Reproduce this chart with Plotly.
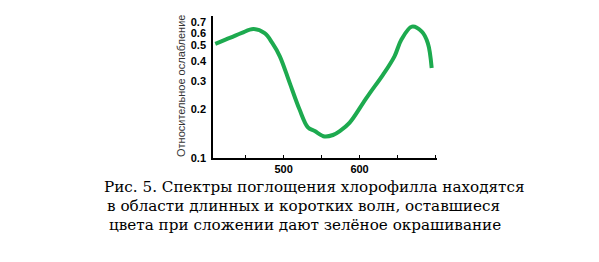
import plotly.graph_objects as go

wavelength = [410, 430, 445, 460, 475, 485, 495, 508, 521, 532, 541, 554, 565, 574, 587, 605, 614, 631, 646, 655, 669, 682, 690, 695]
absorb = [0.513, 0.56, 0.60, 0.634, 0.597, 0.52, 0.429, 0.293, 0.20, 0.155, 0.147, 0.136, 0.139, 0.147, 0.166, 0.221, 0.255, 0.330, 0.429, 0.543, 0.656, 0.611, 0.517, 0.363]

x_tickvals = [450, 500, 550, 600, 650, 700]
x_ticktext = ["", "500", "", "600", "", ""]
y_tickvals = [0.1, 0.2, 0.3, 0.4, 0.5, 0.6, 0.7]
y_ticktext = ["0.1", "0.2", "0.3", "0.4", "0.5", "0.6", "0.7"]

caption = [
    "Рис. 5. Спектры поглощения хлорофилла находятся",
    "в области длинных и коротких волн, оставшиеся",
    "цвета при сложении дают зелёное окрашивание",
]

SERIF = "DejaVu Serif"

fig = go.Figure()
fig.add_trace(go.Scatter(x=wavelength, y=absorb, mode="lines",
                         line=dict(color="#1daa4f", width=4, shape="spline", smoothing=1.0),
                         showlegend=False, hoverinfo="skip"))

fig.update_layout(
    width=599, height=262,
    margin=dict(l=213, r=162, t=16, b=104),
    paper_bgcolor="white", plot_bgcolor="white",
    xaxis=dict(range=[407, 702], tickvals=x_tickvals, ticktext=x_ticktext,
               showgrid=False, zeroline=False, showline=True, linecolor="black", linewidth=1.5,
               ticks="inside", ticklen=3, tickcolor="black",
               tickfont=dict(family="Liberation Sans", size=11, color="black", weight="bold")),
    yaxis=dict(type="log", range=[-1, -0.117], tickvals=y_tickvals, ticktext=y_ticktext,
               showgrid=False, zeroline=False, showline=True, linecolor="black", linewidth=1.5,
               ticks="", ticklabelstandoff=3,
               tickfont=dict(family="Liberation Sans", size=11, color="black", weight="bold")),
)

fig.add_annotation(text="Относительное ослабление", textangle=-90,
                   xref="paper", yref="paper", x=(181 - 213) / (599 - 213 - 162), y=(262 - 104 - 86) / (262 - 16 - 104),
                   xanchor="center", yanchor="middle",
                   showarrow=False, font=dict(family="Liberation Sans", size=11, color="#333"))

caption_x = [102, 105, 107]
caption_y = [187, 206, 225]
for t, cx, cy in zip(caption, caption_x, caption_y):
    fig.add_annotation(text=t, xref="paper", yref="paper",
                       x=(cx - 213) / (599 - 213 - 162), y=(262 - 104 - cy) / (262 - 16 - 104),
                       xanchor="left", yanchor="middle", showarrow=False,
                       font=dict(family=SERIF, size=15.2, color="black"))

fig.write_html("out.html")
